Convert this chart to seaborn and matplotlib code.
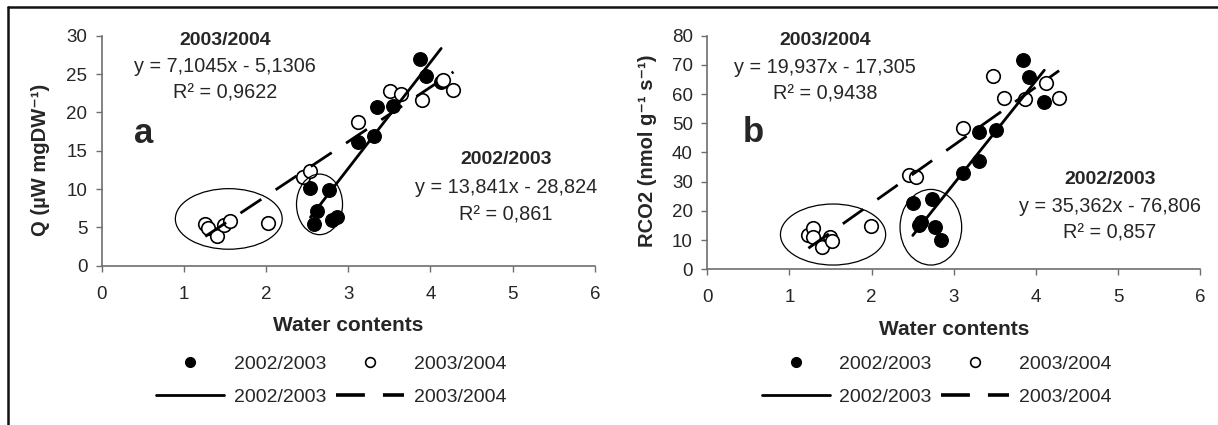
import numpy as np
import pandas as pd
import matplotlib
matplotlib.use("Agg")
import matplotlib.pyplot as plt
from matplotlib.patches import Ellipse
from matplotlib.lines import Line2D
import seaborn as sns

# panel a : Q (uW mgDW-1)
q_x_0203 = [3.87, 3.95, 3.35, 3.54, 3.31, 3.12, 2.54, 2.76, 2.62, 2.58, 2.80, 2.86, 4.13]
q_y_0203 = [27.0, 24.7, 20.7, 20.8, 16.9, 16.2, 10.1, 9.9, 7.2, 5.4, 5.9, 6.3, 24.0]
q_x_0304 = [1.26, 1.29, 1.40, 1.49, 1.56, 2.02, 2.45, 2.54, 3.12, 3.51, 3.64, 3.90, 4.15, 4.28]
q_y_0304 = [5.5, 4.9, 3.9, 5.3, 5.8, 5.6, 11.6, 12.3, 18.7, 22.8, 22.4, 21.6, 24.2, 22.9]

# panel b : RCO2 (nmol g-1 s-1)
r_x_0203 = [3.84, 3.92, 4.10, 3.31, 3.51, 3.31, 3.11, 2.50, 2.73, 2.60, 2.57, 2.77, 2.84]
r_y_0203 = [71.7, 65.8, 57.4, 47.1, 47.7, 37.2, 33.1, 22.6, 24.0, 16.3, 15.0, 14.4, 10.1]
r_x_0304 = [1.23, 1.29, 1.28, 1.39, 1.49, 1.52, 1.99, 2.45, 2.54, 3.11, 3.48, 3.61, 3.87, 4.12, 4.28]
r_y_0304 = [11.7, 14.0, 11.0, 7.8, 11.0, 9.8, 14.8, 32.3, 31.5, 48.3, 66.2, 58.5, 58.3, 63.7, 58.5]

# trendline coefficients (slope, intercept) as printed on the chart
q_fit = {"2002/2003": (13.841, -28.824), "2003/2004": (7.1045, -5.1306)}
r_fit = {"2002/2003": (35.362, -76.806), "2003/2004": (19.937, -17.305)}
q_r2 = {"2002/2003": "0,861", "2003/2004": "0,9622"}
r_r2 = {"2002/2003": "0,857", "2003/2004": "0,9438"}

# ellipses around the low-water groups: (cx, cy, width, height)
q_ellipses = [(1.546, 6.1, 1.30, 7.9), (2.65, 8.0, 0.56, 7.9)]
r_ellipses = [(1.53, 11.9, 1.28, 20.9), (2.72, 14.4, 0.75, 25.9)]

sns.set_style("white")
plt.rcParams["font.family"] = ["Liberation Sans", "DejaVu Sans"]

fig = plt.figure(figsize=(12.18, 4.25), dpi=100)
ax_a = fig.add_axes([0.0835, 0.3748, 0.4049, 0.5412])
ax_b = fig.add_axes([0.5807, 0.3664, 0.4049, 0.5496])

dash = (0, (9, 6.2))
line_w = 2.0


def fmt_eq(slope, icpt):
    s = f"{slope}".replace(".", ",")
    i = f"{abs(icpt)}".replace(".", ",")
    return f"y = {s}x - {i}"


def draw_panel(ax, x1, y1, x2, y2, fits, r2, ellipses, ymax, ystep, ylabel, letter,
               pos_top, pos_bot, letter_pos, ylab_pos, leg_y):
    d1 = pd.DataFrame({"x": x1, "y": y1})
    d2 = pd.DataFrame({"x": x2, "y": y2})
    sns.scatterplot(data=d1, x="x", y="y", ax=ax, color="black", edgecolor="black",
                    s=95, linewidth=1, zorder=3)
    sns.scatterplot(data=d2, x="x", y="y", ax=ax, color="white", edgecolor="black",
                    s=95, linewidth=1.2, zorder=4)

    for (name, (a, b)), data, ls in zip(fits.items(), [d1, d2], ["-", dash]):
        xs = np.linspace(data["x"].min(), data["x"].max(), 50)
        ax.plot(xs, a * xs + b, color="black", lw=line_w, linestyle=ls, zorder=5)

    for cx, cy, w, h in ellipses:
        ax.add_patch(Ellipse((cx, cy), w, h, fill=False, edgecolor="black", lw=0.9, zorder=6))

    ax.set_xlim(0, 6)
    ax.set_ylim(0, ymax)
    ax.set_xticks(range(0, 7))
    ax.set_yticks(np.arange(0, ymax + 1, ystep))
    for side in ["top", "right"]:
        ax.spines[side].set_visible(False)
    for side in ["left", "bottom"]:
        ax.spines[side].set_color("#6e6e6e")
        ax.spines[side].set_linewidth(1.2)
    ax.tick_params(direction="out", length=4.3, width=1, color="#6e6e6e",
                   labelsize=13.5, pad=6, bottom=True, left=True)
    ax.tick_params(axis="x", pad=10)

    ax.set_xlabel("Water contents", fontsize=15, fontweight="bold", labelpad=10)
    ax.set_ylabel(ylabel, fontsize=14.5, fontweight="bold")
    ax.yaxis.set_label_coords(*ylab_pos)

    # equations
    names = list(fits.keys())
    for name, pos in [(names[1], pos_top), (names[0], pos_bot)]:
        px, py, dy = pos
        a, b = fits[name]
        ax.text(px, py, name, ha="center", va="center", fontsize=14, fontweight="bold")
        ax.text(px, py - dy, fmt_eq(a, b), ha="center", va="center", fontsize=14.3)
        ax.text(px, py - 2 * dy, "R² = " + r2[name], ha="center", va="center", fontsize=14.3)

    ax.text(letter_pos[0], letter_pos[1], letter, ha="center", va="center",
            fontsize=25, fontweight="bold")

    handles = [
        Line2D([], [], marker="o", color="none", markerfacecolor="black",
               markeredgecolor="black", markersize=7),
        Line2D([], [], color="black", lw=line_w),
        Line2D([], [], marker="o", color="none", markerfacecolor="white",
               markeredgecolor="black", markersize=7, markeredgewidth=1.2),
        Line2D([], [], color="black", lw=2.6, linestyle=(0, (8, 5))),
    ]
    labels = ["2002/2003", "2002/2003", "2003/2004", "2003/2004"]
    ax.legend(handles, labels, ncol=2, loc="center", bbox_to_anchor=(0.465, leg_y),
              frameon=False, fontsize=14, handlelength=3.5, handletextpad=0.5,
              columnspacing=0.5, labelspacing=0.8, borderpad=0)


draw_panel(ax_a, q_x_0203, q_y_0203, q_x_0304, q_y_0304, q_fit, q_r2, q_ellipses,
           30, 5, "Q (µW mgDW⁻¹)", "a",
           (1.50, 29.4, 3.45), (4.92, 13.8, 3.6), (0.51, 17.3), (-0.105, 0.46), -0.50)
draw_panel(ax_b, r_x_0203, r_y_0203, r_x_0304, r_y_0304, r_fit, r_r2, r_ellipses,
           80, 10, "RCO2 (nmol g⁻¹ s⁻¹)", "b",
           (1.43, 78.5, 9.3), (4.90, 30.6, 9.1), (0.56, 46.7), (-0.101, 0.507), -0.476)

# outer frame fragment (top and left edges)
fig.add_artist(Line2D([8 / 1218, 1.0], [1 - 7 / 425, 1 - 7 / 425],
                      transform=fig.transFigure, color="#111111", lw=1.8))
fig.add_artist(Line2D([8 / 1218, 8 / 1218], [0, 1 - 7 / 425],
                      transform=fig.transFigure, color="#111111", lw=1.8))

fig.savefig("out.png", dpi=100, facecolor="white")
